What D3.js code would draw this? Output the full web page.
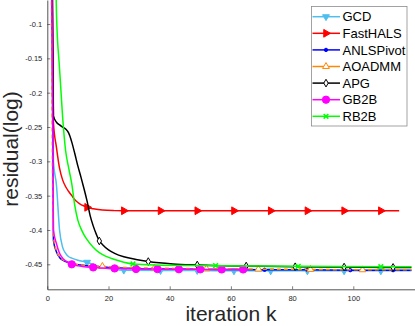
<!DOCTYPE html>
<html>
<head>
<meta charset="utf-8">
<script src="https://cdn.jsdelivr.net/npm/d3@7"></script>
<style>
  body { margin: 0; background: #fff; }
  text { font-family: "Liberation Sans", Arial, sans-serif; }
</style>
</head>
<body>
<div id="chart"></div>
<script>
// iteration numbers and residual(log) values
var iterGCD = [1, 2, 3, 4, 5, 6, 7, 8, 10, 13, 16, 20, 25, 37, 49, 61, 73, 85, 97, 109, 119];
var resGCD  = [0.3, -0.300, -0.335, -0.400, -0.425, -0.434, -0.439, -0.441, -0.444, -0.447, -0.452, -0.4565, -0.4585, -0.459, -0.459, -0.4595, -0.4595, -0.4595, -0.4595, -0.4595, -0.4595];

var iterFH = [1, 2, 3, 4, 5, 6, 7, 8, 9, 10, 11, 12, 13, 15, 18, 22, 25, 37, 49, 61, 73, 85, 97, 109, 115];
var resFH  = [0.3, -0.243, -0.280, -0.310, -0.327, -0.337, -0.344, -0.350, -0.356, -0.360, -0.363, -0.365, -0.367, -0.369, -0.371, -0.3718, -0.372, -0.372, -0.372, -0.372, -0.372, -0.372, -0.372, -0.372, -0.372];

var iterAN = [1, 2, 3, 4, 5, 6, 8, 11, 15, 20, 29, 43, 57, 71, 85, 99, 113, 119];
var resAN  = [0.3, -0.415, -0.432, -0.440, -0.444, -0.446, -0.449, -0.451, -0.453, -0.4545, -0.456, -0.457, -0.4575, -0.458, -0.458, -0.4585, -0.4585, -0.4585];

var iterAO = [1, 2, 3, 4, 5, 6, 8, 11, 15, 18, 25, 35, 52, 69, 86, 103, 119];
var resAO  = [0.3, -0.410, -0.430, -0.439, -0.443, -0.446, -0.449, -0.451, -0.4525, -0.453, -0.4545, -0.4555, -0.4565, -0.457, -0.4575, -0.458, -0.458];

var iterAPG = [1, 2, 3, 4, 5, 6, 7, 8, 9, 10, 11, 12, 13, 14, 15, 16, 17, 18, 20, 22, 25, 29, 33, 41, 49, 57, 65, 81, 97, 113, 119];
var resAPG  = [0.3, -0.234, -0.243, -0.247, -0.250, -0.253, -0.259, -0.272, -0.289, -0.307, -0.323, -0.340, -0.358, -0.379, -0.394, -0.406, -0.416, -0.421, -0.429, -0.434, -0.439, -0.443, -0.446, -0.4495, -0.451, -0.452, -0.4525, -0.4535, -0.454, -0.4545, -0.4545];

var iterGB = [1, 2, 3, 4, 5, 6, 7, 8, 10, 12, 15, 18, 22, 29, 36, 43, 50, 57, 64, 66];
var resGB  = [0.3, -0.400, -0.420, -0.434, -0.441, -0.445, -0.448, -0.450, -0.452, -0.4535, -0.4545, -0.4555, -0.456, -0.4568, -0.457, -0.4572, -0.4573, -0.4575, -0.4575, -0.4575];

var iterRB = [1, 2, 3, 4, 5, 6, 7, 8, 9, 10, 11, 12, 13, 15, 17, 19, 22, 25, 28, 35, 55, 82, 109, 119];
var resRB  = [0.3, 0.15, -0.085, -0.165, -0.235, -0.285, -0.310, -0.333, -0.365, -0.386, -0.398, -0.407, -0.414, -0.425, -0.433, -0.438, -0.443, -0.447, -0.4495, -0.451, -0.452, -0.453, -0.4535, -0.4535];

// iterations that carry a marker
var markGCD = [1, 13, 25, 37, 49, 61, 73, 85, 97, 109];
var markFH  = [1, 13, 25, 37, 49, 61, 73, 85, 97, 109];
var markAN  = [1, 15, 29, 43, 57, 71, 85, 99, 113];
var markAO  = [1, 18, 35, 52, 69, 86, 103];
var markAPG = [1, 17, 33, 49, 65, 81, 97, 113];
var markGB  = [1, 8, 15, 22, 29, 36, 43, 50, 57, 64];
var markRB  = [1, 28, 55, 82, 109];

var names = ["GCD", "FastHALS", "ANLSPivot", "AOADMM", "APG", "GB2B", "RB2B"];
var xTicks = [0, 20, 40, 60, 80, 100];
var yTicks = [-0.45, -0.4, -0.35, -0.3, -0.25, -0.2, -0.15, -0.1];

var width = 415, height = 326;
var margin = {top: 0, right: 0.5, bottom: 36.7, left: 47.3};

var series = [
  {iters: iterGCD, vals: resGCD, marks: markGCD, color: "#4dbeee", sym: d3.symbolTriangle, rot: 180, size: 20, fill: true},
  {iters: iterFH, vals: resFH, marks: markFH, color: "#ff0000", sym: d3.symbolTriangle, rot: 90, size: 26, fill: true},
  {iters: iterAN, vals: resAN, marks: markAN, color: "#0000ff", sym: d3.symbolCircle, rot: 0, size: 9, fill: true},
  {iters: iterAO, vals: resAO, marks: markAO, color: "#ff8800", sym: d3.symbolTriangle, rot: 0, size: 20, fill: false, dash: "4,3"},
  {iters: iterAPG, vals: resAPG, marks: markAPG, color: "#000000", sym: d3.symbolDiamond, rot: 0, size: 17, fill: false},
  {iters: iterGB, vals: resGB, marks: markGB, color: "#ff00ff", sym: d3.symbolCircle, rot: 0, size: 42, fill: true},
  {iters: iterRB, vals: resRB, marks: markRB, color: "#00ff00", sym: d3.symbolTimes, rot: 0, size: 16, fill: false}
];
series.forEach(function(s, i) { s.name = names[i]; });

var x = d3.scaleLinear().domain([0, 120]).range([margin.left, width - margin.right]);
var y = d3.scaleLinear().domain([-0.4864, -0.065]).range([height - margin.bottom, margin.top]);

var svg = d3.select("#chart").append("svg")
    .attr("width", width)
    .attr("height", height);

svg.append("defs").append("clipPath").attr("id", "clip")
  .append("rect")
    .attr("x", margin.left)
    .attr("y", margin.top)
    .attr("width", width - margin.right - margin.left)
    .attr("height", height - margin.bottom - margin.top);

function symbolPath(s) {
  return d3.symbol().type(s.sym).size(s.size)();
}

function drawMarker(g, s) {
  g.append("path")
    .attr("d", symbolPath(s))
    .attr("fill", s.fill ? s.color : (s.sym === d3.symbolTimes ? "none" : "#fff"))
    .attr("stroke", s.color)
    .attr("stroke-width", s.sym === d3.symbolTimes ? 1.5 : 1);
}

var plot = svg.append("g").attr("clip-path", "url(#clip)");

var line = d3.line()
  .x(function(d) { return x(d[0]); })
  .y(function(d) { return y(d[1]); })
  .curve(d3.curveMonotoneX);

series.forEach(function(s) {
  var pts = s.iters.map(function(k, i) { return [k, s.vals[i]]; });
  plot.append("path")
    .datum(pts)
    .attr("fill", "none")
    .attr("stroke", s.color)
    .attr("stroke-width", 1.5)
    .attr("stroke-dasharray", s.dash || null)
    .attr("d", line);

  pts.filter(function(p) { return s.marks.indexOf(p[0]) >= 0; }).forEach(function(p) {
    var g = plot.append("g")
      .attr("transform", "translate(" + x(p[0]) + "," + y(p[1]) + ") rotate(" + s.rot + ")");
    drawMarker(g, s);
  });
});

// axes (ticks point inward, no box)
var fmt = function(d) { return String(+d.toFixed(2)); };

var gx = svg.append("g")
    .attr("transform", "translate(0," + (height - margin.bottom) + ")")
    .call(d3.axisBottom(x).tickValues(xTicks).tickSizeInner(-3).tickSizeOuter(0).tickPadding(6).tickFormat(fmt));

var gy = svg.append("g")
    .attr("transform", "translate(" + margin.left + ",0)")
    .call(d3.axisLeft(y).tickValues(yTicks).tickSizeInner(-3).tickSizeOuter(0).tickPadding(5).tickFormat(fmt));

[gx, gy].forEach(function(g) {
  g.select(".domain").attr("stroke", "#262626").attr("stroke-width", 0.8);
  g.selectAll(".tick line").attr("stroke", "#262626").attr("stroke-width", 0.6);
  g.selectAll(".tick text")
    .attr("fill", "#262626")
    .style("font-size", "7.5px")
    .style("font-family", "'Liberation Sans', Arial, sans-serif");
});

svg.append("text")
    .attr("x", (margin.left + width - margin.right) / 2)
    .attr("y", 321)
    .attr("text-anchor", "middle")
    .attr("fill", "#262626")
    .style("font-size", "21px")
    .text("iteration k");

svg.append("text")
    .attr("transform", "translate(18,149) rotate(-90)")
    .attr("text-anchor", "middle")
    .attr("fill", "#262626")
    .style("font-size", "21px")
    .text("residual(log)");

// legend
var legend = svg.append("g");
legend.append("rect")
    .attr("x", 311.5).attr("y", 6.5)
    .attr("width", 95.5).attr("height", 119.5)
    .attr("fill", "#fff")
    .attr("stroke", "#8c8c8c")
    .attr("stroke-width", 0.8);

series.forEach(function(s, i) {
  var cy = 16.7 + i * 16.6;
  var row = legend.append("g");
  row.append("line")
    .attr("x1", 312.5).attr("x2", 340)
    .attr("y1", cy).attr("y2", cy)
    .attr("stroke", s.color)
    .attr("stroke-width", 1.5);
  var g = row.append("g")
    .attr("transform", "translate(326," + cy + ") rotate(" + s.rot + ")");
  drawMarker(g, s);
  row.append("text")
    .attr("x", 342.5).attr("y", cy)
    .attr("dy", "0.36em")
    .attr("fill", "#000")
    .style("font-size", "13px")
    .text(s.name);
});
</script>
</body>
</html>
